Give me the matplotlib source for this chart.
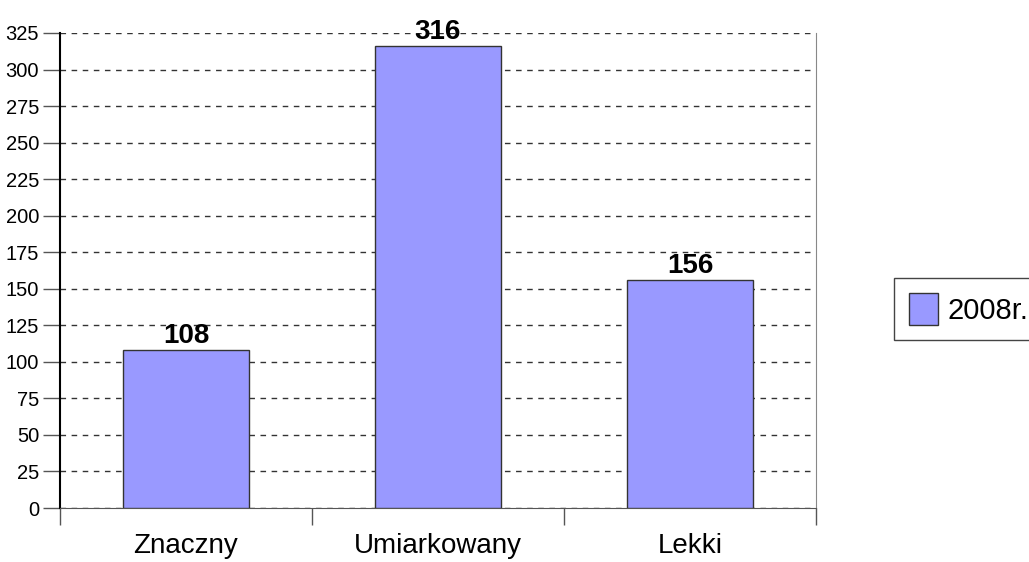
import matplotlib.pyplot as plt
import numpy as np

# Dane
kategorie = ['Znaczny', 'Umiarkowany', 'Lekki']
wartosci = [108, 316, 156]
seria = '2008r.'
y_ticks = list(range(0, 326, 25))

plt.rcParams['font.family'] = ['Liberation Sans', 'DejaVu Sans']

W, H = 1029, 562
fig = plt.figure(figsize=(W / 100, H / 100), dpi=100)
ax = fig.add_axes([60 / W, (H - 508) / H, (816 - 60) / W, (508 - 33) / H])

x = np.arange(len(kategorie))
bars = ax.bar(x, wartosci, width=0.5, color='#9999FF', edgecolor='#333333',
              linewidth=1, label=seria, zorder=3)

# Etykiety wartosci nad slupkami
for xi, v in zip(x, wartosci):
    ax.text(xi, v + 1, str(v), ha='center', va='bottom', fontsize=20,
            fontweight='bold', zorder=4)

ax.set_xlim(-0.5, len(kategorie) - 0.5)
ax.set_ylim(0, 325)
ax.set_yticks(y_ticks)
ax.set_yticklabels([str(t) for t in y_ticks], fontsize=14.5)

# Kreski kategorii pomiedzy slupkami
ax.set_xticks(np.arange(-0.5, len(kategorie), 1))
ax.set_xticklabels([])
ax.set_xticks(x, minor=True)
ax.set_xticklabels(kategorie, minor=True, fontsize=20)
ax.tick_params(axis='x', which='minor', length=0, pad=18)
ax.tick_params(axis='x', which='major', length=12, color='#555555', width=1)
ax.tick_params(axis='y', length=12, width=1, color='#555555', pad=3)

ax.grid(axis='y', linestyle=(0, (4, 4)), color='#333333', linewidth=1, zorder=1)

ax.spines['left'].set_color('black')
ax.spines['left'].set_linewidth(1.5)
ax.spines['right'].set_color('#888888')
ax.spines['top'].set_visible(False)
ax.spines['bottom'].set_color('#555555')

leg = fig.legend(loc='upper left', bbox_to_anchor=(894 / W, 1 - 278 / H),
                 borderaxespad=0, fontsize=21, fancybox=False,
                 edgecolor='#444444', handlelength=1.02, handleheight=1.35,
                 borderpad=0.5, handletextpad=0.3, framealpha=1)
leg.get_frame().set_linewidth(1)

fig.savefig('out.png', dpi=100)
